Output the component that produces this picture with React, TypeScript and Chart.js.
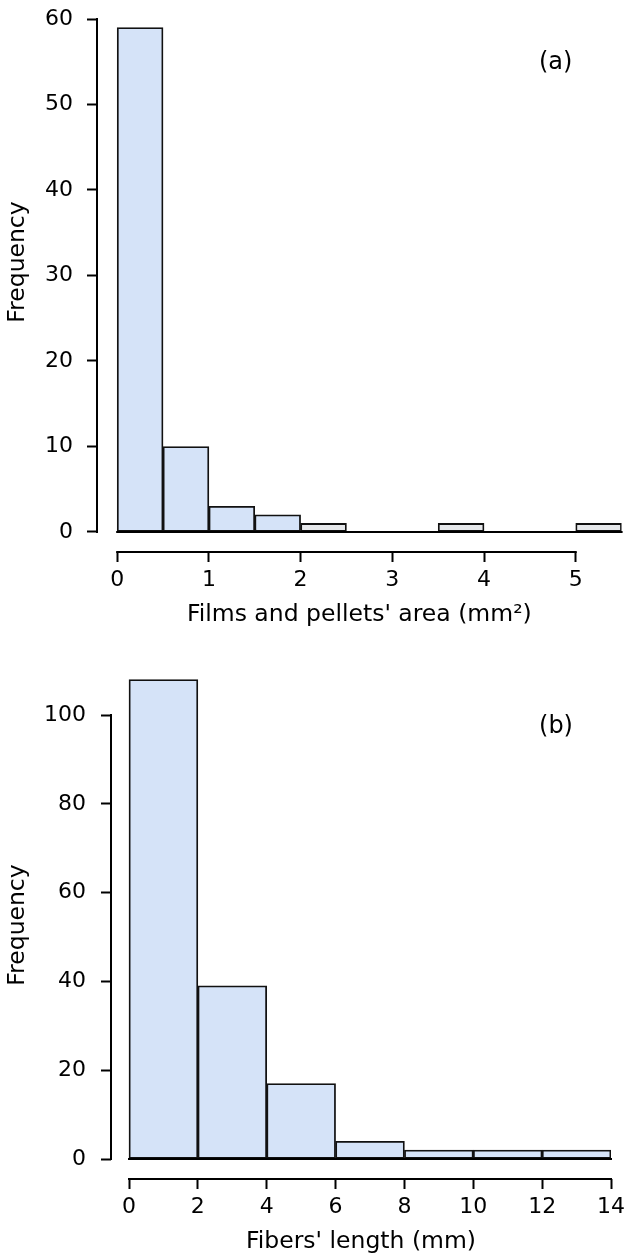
import React, { useEffect, useRef } from 'react';
import { Chart, registerables } from 'chart.js';

Chart.register(...registerables);

// ---- Data: (a) films and pellets' area histogram ----
const filmBinStarts = [0, 0.5, 1, 1.5, 2, 2.5, 3, 3.5, 4, 4.5, 5];
const filmCounts = [59, 10, 3, 2, 1, 0, 0, 1, 0, 0, 1];
const filmBinWidth = 0.5;
const filmXTicks = [0, 1, 2, 3, 4, 5];
const filmYTicks = [0, 10, 20, 30, 40, 50, 60];

// ---- Data: (b) fibers' length histogram ----
const fiberBinStarts = [0, 2, 4, 6, 8, 10, 12];
const fiberCounts = [108, 39, 17, 4, 2, 2, 2];
const fiberBinWidth = 2;
const fiberXTicks = [0, 2, 4, 6, 8, 10, 12, 14];
const fiberYTicks = [0, 20, 40, 60, 80, 100];

const FONT = "'DejaVu Sans', Verdana, sans-serif";

const rAxesPlugin = {
  id: 'rAxes',
  afterDatasetsDraw(chart: any, _args: any, opts: any) {
    const { ctx, chartArea } = chart;
    const x = chart.scales.x;
    const y = chart.scales.y;
    ctx.save();
    ctx.strokeStyle = '#000';
    ctx.lineWidth = 2;
    ctx.lineCap = 'square';
    // baseline along zero across all bins
    const y0 = y.getPixelForValue(0);
    ctx.beginPath();
    ctx.moveTo(x.getPixelForValue(opts.binFrom), y0);
    ctx.lineTo(x.getPixelForValue(opts.binTo), y0);
    ctx.stroke();
    ctx.lineCap = 'butt';
    // y axis line from first to last tick
    const yt = y.ticks;
    ctx.beginPath();
    ctx.moveTo(chartArea.left, y.getPixelForValue(yt[0].value) + 1);
    ctx.lineTo(chartArea.left, y.getPixelForValue(yt[yt.length - 1].value) - 1);
    ctx.stroke();
    // x axis line from first to last tick
    const xt = x.ticks;
    ctx.beginPath();
    ctx.moveTo(x.getPixelForValue(xt[0].value) - 1, chartArea.bottom);
    ctx.lineTo(x.getPixelForValue(xt[xt.length - 1].value) + 1, chartArea.bottom);
    ctx.stroke();
    // y title
    ctx.fillStyle = '#000';
    ctx.font = `23.5px ${FONT}`;
    ctx.textAlign = 'center';
    ctx.textBaseline = 'middle';
    ctx.save();
    ctx.translate(opts.yTitleX, opts.yTitleY);
    ctx.rotate(-Math.PI / 2);
    ctx.fillText(opts.yTitle, 0, 0);
    ctx.restore();
    // panel label
    ctx.font = `24px ${FONT}`;
    ctx.fillText(opts.panel, chartArea.right - opts.panelDx, chartArea.top + opts.panelDy);
    ctx.restore();
  },
};

function makeConfig(p: any) {
  const data = p.starts.map((s: number, i: number) => ({ x: s + p.binWidth / 2, y: p.counts[i] }));
  return {
    type: 'bar',
    data: {
      datasets: [
        {
          data,
          backgroundColor: (c: any) => {
            const v = c.raw ? c.raw.y : 0;
            return v <= 1 ? '#e6e8eb' : '#d5e3f8';
          },
          borderColor: '#111111',
          borderWidth: 1.8,
          borderSkipped: false,
          barPercentage: 1,
          categoryPercentage: 1,
        },
      ],
    },
    options: {
      animation: false,
      responsive: false,
      devicePixelRatio: 1,
      layout: { padding: p.padding },
      plugins: {
        legend: { display: false },
        tooltip: { enabled: false },
        rAxes: {
          binFrom: p.starts[0],
          binTo: p.starts[p.starts.length - 1] + p.binWidth,
          yTitle: 'Frequency',
          yTitleX: 18,
          yTitleY: p.yTitleY,
          panel: p.panel,
          panelDx: p.panelDx,
          panelDy: p.panelDy,
        },
      },
      scales: {
        x: {
          type: 'linear',
          min: p.xMin,
          max: p.xMax,
          offset: false,
          grid: {
            offset: false,
            drawOnChartArea: false,
            drawTicks: true,
            tickLength: 10,
            tickWidth: 2,
            tickColor: '#000',
          },
          border: { display: false },
          afterBuildTicks: (s: any) => {
            s.ticks = p.xTicks.map((v: number) => ({ value: v }));
          },
          afterFit: (s: any) => {
            s.height = p.xHeight;
            s.paddingLeft = 0;
            s.paddingRight = 0;
          },
          ticks: {
            font: { size: 22, family: FONT },
            color: '#000',
            padding: 5,
            maxRotation: 0,
            autoSkip: false,
            callback: (v: any) => String(v),
          },
          title: {
            display: true,
            text: p.xTitle,
            font: { size: 23.5, family: FONT },
            color: '#000',
            padding: { top: 0, bottom: p.xTitlePad },
          },
        },
        y: {
          type: 'linear',
          min: p.yMin,
          max: p.yMax,
          grid: {
            drawOnChartArea: false,
            drawTicks: true,
            tickLength: 10,
            tickWidth: 2,
            tickColor: '#000',
          },
          border: { display: false },
          afterBuildTicks: (s: any) => {
            s.ticks = p.yTicks.map((v: number) => ({ value: v }));
          },
          afterFit: (s: any) => {
            s.width = p.yWidth;
            s.paddingTop = 0;
            s.paddingBottom = 0;
          },
          ticks: {
            font: { size: 22, family: FONT },
            color: '#000',
            padding: p.yTickPad,
            autoSkip: false,
            callback: (v: any) => String(v),
          },
        },
      },
    },
    plugins: [rAxesPlugin],
  };
}

function Hist({ cfg, width, height, top }: any) {
  const ref = useRef<HTMLCanvasElement | null>(null);
  useEffect(() => {
    if (!ref.current) return;
    const chart = new Chart(ref.current, makeConfig(cfg) as any);
    return () => chart.destroy();
  }, []);
  return (
    <canvas
      ref={ref}
      width={width}
      height={height}
      style={{ position: 'absolute', left: 0, top, width, height, display: 'block' }}
    />
  );
}

const filmCfg = {
  starts: filmBinStarts,
  counts: filmCounts,
  binWidth: filmBinWidth,
  xTicks: filmXTicks,
  yTicks: filmYTicks,
  xMin: -0.22,
  xMax: 5.5,
  yMin: -2.34,
  yMax: 60,
  padding: { top: 19, right: 3.4, left: 0, bottom: 0 },
  yWidth: 97,
  xHeight: 88,
  yTickPad: 14,
  xTitle: "Films and pellets' area (mm²)",
  xTitlePad: 11,
  yTitleY: 262,
  panel: '(a)',
  panelDx: 66,
  panelDy: 44,
};

const fiberCfg = {
  starts: fiberBinStarts,
  counts: fiberCounts,
  binWidth: fiberBinWidth,
  xTicks: fiberXTicks,
  yTicks: fiberYTicks,
  xMin: -0.523,
  xMax: 14,
  yMin: -4.5,
  yMax: 110,
  padding: { top: 30.6, right: 14, left: 0, bottom: 0 },
  yWidth: 111,
  xHeight: 80,
  yTickPad: 15,
  xTitle: "Fibers' length (mm)",
  xTitlePad: 3,
  yTitleY: 285,
  panel: '(b)',
  panelDx: 55,
  panelDy: 56,
};

export default function App() {
  return (
    <div style={{ position: 'absolute', left: 0, top: 0, width: 625, height: 1259, background: '#fff' }}>
      <Hist cfg={filmCfg} width={625} height={640} top={0} />
      <Hist cfg={fiberCfg} width={625} height={619} top={640} />
    </div>
  );
}
